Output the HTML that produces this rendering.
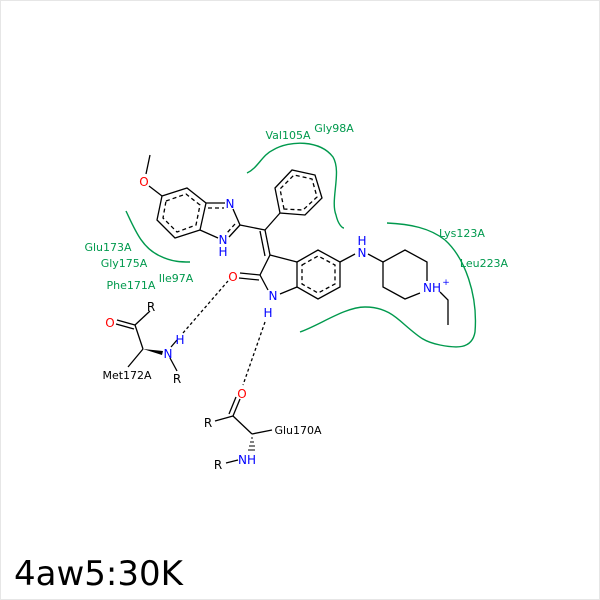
<!DOCTYPE html>
<html><head><style>
body{margin:0;background:#fff}
svg{display:block}
text{font-family:"DejaVu Sans","Liberation Sans",sans-serif}
</style></head><body>
<svg width="600" height="600" viewBox="0 0 600 600" xmlns="http://www.w3.org/2000/svg">
<rect x="0.5" y="0.5" width="599" height="599" fill="#fff" stroke="#e6e6e6"/>
<g fill="none" stroke="#00994d" stroke-width="1.4">
<path d="M247,173 C258,168 262,155 273,150 C290,140 320,140 333,157 C342,172 330,200 336,215 C338,224 342,228 344,228"/>
<path d="M126,211 C135,230 142,248 160,256 C172,262 182,262 190,262"/>
<path d="M387,223 C410,224 430,228 445,240 C465,258 478,295 475,332 C472,350 455,348 440,345 C425,342 420,338 405,325 C395,316 385,307 365,307 C345,307 320,325 300,332"/>
</g>
<g fill="#00994d" font-size="11" text-anchor="middle">
<text x="288" y="139">Val105A</text>
<text x="334" y="132">Gly98A</text>
<text x="462" y="237">Lys123A</text>
<text x="484" y="267">Leu223A</text>
<text x="108" y="251">Glu173A</text>
<text x="124" y="267">Gly175A</text>
<text x="176" y="282">Ile97A</text>
<text x="131" y="289">Phe171A</text>
</g>
<g fill="none" stroke="#000" stroke-width="1.3">
<line x1="150" y1="155" x2="146" y2="174"/>
<line x1="149" y1="186" x2="162" y2="196"/>
<polygon points="162,196 187,188 206,203 200,230 175,238 157,220"/>
<polygon points="166,201 186,194 200,205 196,225 177,232 163,218" stroke-dasharray="4,3"/>
<line x1="206" y1="203" x2="225" y2="203"/>
<line x1="233" y1="209" x2="240" y2="225"/>
<line x1="240" y1="225" x2="229" y2="237"/>
<line x1="218" y1="238" x2="200" y2="230"/>
<line x1="208" y1="208" x2="224" y2="208" stroke-dasharray="4,3"/>
<line x1="235" y1="224" x2="227" y2="233" stroke-dasharray="4,3"/>
<line x1="240" y1="225" x2="265" y2="230"/>
<line x1="265" y1="230" x2="280" y2="213"/>
<polygon points="280,213 275,188 292,170 315,175 322,198 305,215"/>
<polygon points="284,209 280,189 294,175 312,179 317,197 303,210" stroke-dasharray="4,3"/>
<line x1="265" y1="230" x2="270" y2="255"/>
<line x1="260" y1="231" x2="265" y2="256"/>
<line x1="270" y1="255" x2="260" y2="275"/>
<line x1="260" y1="275" x2="268" y2="290"/>
<line x1="280" y1="294" x2="297" y2="287"/>
<line x1="270" y1="255" x2="297" y2="262"/>
<line x1="240" y1="273" x2="260" y2="275"/>
<line x1="239" y1="278" x2="259" y2="280"/>
<polygon points="297,262 318,250 340,262 340,287 318,299 297,287"/>
<polygon points="302,265 318,256 335,265 335,284 318,293 302,284" stroke-dasharray="4,3"/>
<line x1="340" y1="262" x2="355" y2="254"/>
<line x1="368" y1="254" x2="383" y2="262"/>
<polyline points="427,281 427,262 405,250 383,262 383,287 405,299 420,293"/>
<polyline points="440,292 448,300 448,325"/>
<line x1="150" y1="311" x2="135" y2="325"/>
<line x1="135" y1="325" x2="117" y2="320"/>
<line x1="134" y1="329" x2="116" y2="324"/>
<line x1="135" y1="325" x2="143" y2="349"/>
<line x1="143" y1="349" x2="128" y2="367"/>
<line x1="170" y1="358" x2="177" y2="371"/>
<line x1="171" y1="347" x2="177" y2="340"/>
<line x1="215" y1="421" x2="233" y2="416"/>
<line x1="233" y1="416" x2="240" y2="399"/>
<line x1="229" y1="414" x2="236" y2="397"/>
<line x1="233" y1="416" x2="252" y2="434"/>
<line x1="252" y1="434" x2="272" y2="430"/>
<line x1="226" y1="463" x2="238" y2="460"/>
<line x1="183" y1="333" x2="228" y2="281" stroke-dasharray="3,2.5"/>
<line x1="265" y1="322" x2="243" y2="385" stroke-dasharray="3,2.5"/>
</g>
<polygon points="143,349 163,351 162,355" fill="#000"/>
<g stroke="#000" stroke-width="1">
<line x1="251" y1="438" x2="253" y2="438"/><line x1="250" y1="442" x2="254" y2="442"/><line x1="249" y1="446" x2="255" y2="446"/><line x1="248" y1="450" x2="255" y2="450"/>
</g>
<g font-size="12" text-anchor="middle">
<text x="144" y="186" fill="#f00">O</text>
<text x="230" y="208" fill="#00f">N</text>
<text x="223" y="244" fill="#00f">N</text>
<text x="223" y="256" fill="#00f">H</text>
<text x="233" y="281" fill="#f00">O</text>
<text x="273" y="300" fill="#00f">N</text>
<text x="268" y="317" fill="#00f">H</text>
<text x="362" y="245" fill="#00f">H</text>
<text x="362" y="257" fill="#00f">N</text>
<text x="432" y="292" fill="#00f">NH</text>
<text x="446" y="285" fill="#00f" font-size="9">+</text>
<text x="151" y="311">R</text>
<text x="110" y="327" fill="#f00">O</text>
<text x="168" y="358" fill="#00f">N</text>
<text x="180" y="344" fill="#00f">H</text>
<text x="177" y="383">R</text>
<text x="242" y="398" fill="#f00">O</text>
<text x="208" y="427">R</text>
<text x="247" y="464" fill="#00f">NH</text>
<text x="218" y="469">R</text>
</g>
<g font-size="11" text-anchor="middle">
<text x="127" y="379">Met172A</text>
<text x="298" y="434">Glu170A</text>
</g>
<text x="14" y="585" font-size="34" fill="#000">4aw5:30K</text>
</svg>
</body></html>
